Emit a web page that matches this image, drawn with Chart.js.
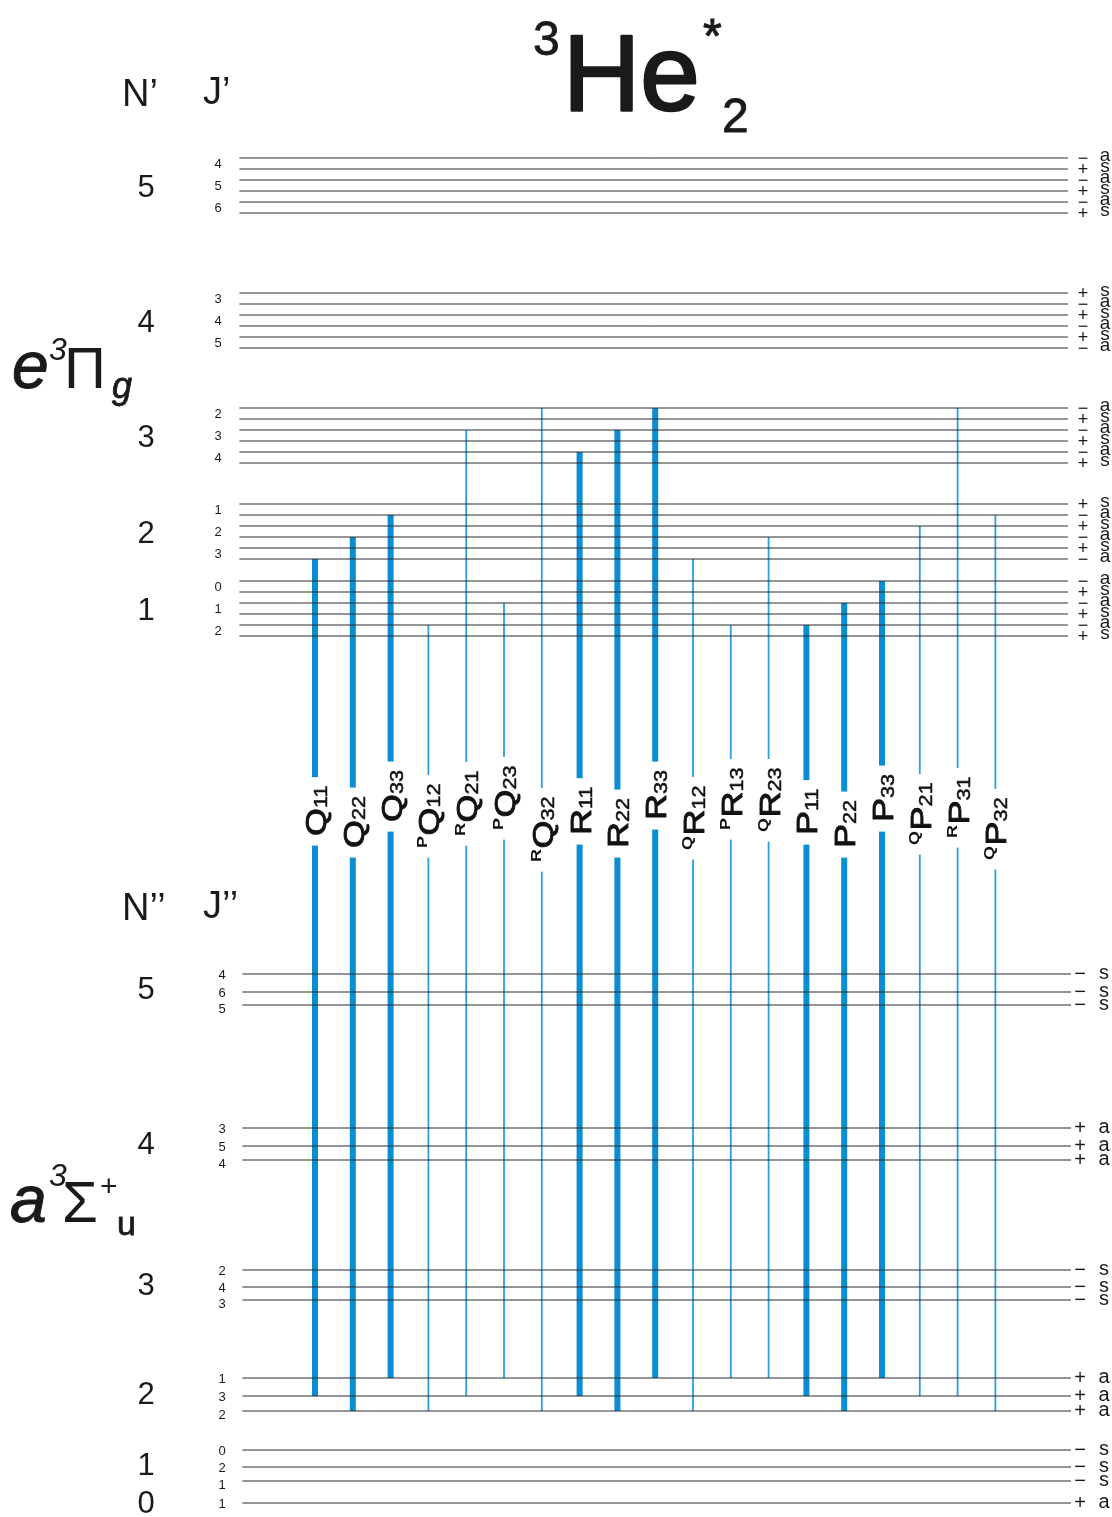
<!DOCTYPE html>
<html>
<head>
<meta charset="utf-8">
<script src="https://cdn.jsdelivr.net/npm/chart.js@4/dist/chart.umd.min.js"></script>
<style>
  html, body { margin: 0; padding: 0; background: #fff; }
  canvas { display: block; }
</style>
</head>
<body>
<canvas id="c" width="1112" height="1517"></canvas>
<script>
// ---------------- DATA (energies in arbitrary units) ----------------
// Upper state e3Πg : rotational N', fine-structure J', two Λ-doublet components each
const upperN = [5, 4, 3, 2, 1];
const upperJ = [[4, 5, 6], [3, 4, 5], [2, 3, 4], [1, 2, 3], [0, 1, 2]];
const upperE = [
  [1359, 1348, 1337, 1326, 1315, 1304],
  [1224, 1213, 1202, 1191, 1180, 1169],
  [1109, 1098, 1087, 1076, 1065, 1054],
  [1013, 1002, 991, 980, 969, 958],
  [936, 925, 914, 903, 892, 881]
];
const upperSign = [
  ['−', '+', '−', '+', '−', '+'],
  ['+', '−', '+', '−', '+', '−'],
  ['−', '+', '−', '+', '−', '+'],
  ['+', '−', '+', '−', '+', '−'],
  ['−', '+', '−', '+', '−', '+']
];
const upperSym = [
  ['a', 's', 'a', 's', 'a', 's'],
  ['s', 'a', 's', 'a', 's', 'a'],
  ['a', 's', 'a', 's', 'a', 's'],
  ['s', 'a', 's', 'a', 's', 'a'],
  ['a', 's', 'a', 's', 'a', 's']
];
// Lower state a3Σu+
const lowerN = [5, 4, 3, 2, 1, 0];
const lowerJ = [[4, 6, 5], [3, 5, 4], [2, 4, 3], [1, 3, 2], [0, 2, 1], [1]];
const lowerE = [[543, 525, 512], [389, 371, 357], [247, 230, 217], [139, 121, 106], [67, 50, 36], [14]];
const lowerSign = ['−', '+', '−', '+', '−', '+'];
const lowerSym = ['s', 'a', 's', 'a', 's', 'a'];

// Transitions
const branch    = ['Q','Q','Q','Q','Q','Q','Q','R','R','R','R','R','R','P','P','P','P','P','P'];
const preBranch = ['','','','P','R','P','R','','','','Q','P','Q','','','','Q','R','Q'];
const subIdx    = ['11','22','33','12','21','23','32','11','22','33','12','13','23','11','22','33','21','31','32'];
const upN   = [2,2,2,1,3,1,3,3,3,3,2,1,2,1,1,1,2,3,2];
const upJ   = [3,2,1,2,3,1,2,4,3,2,3,2,2,2,1,0,2,2,1];
const upC   = [1,1,1,0,0,0,0,0,0,0,1,0,1,0,0,0,0,0,1];
const loN   = [2,2,2,2,2,2,2,2,2,2,2,2,2,2,2,2,2,2,2];
const loJ   = [3,2,1,2,3,1,2,3,2,1,2,1,1,3,2,1,3,3,2];

// ---------------- LAYOUT / STYLE ----------------
const X_MIN = -8.3333, X_MAX = 21.0847;
const labelBottom = [836,848,822,848,836,830,862,835,848,820,850,830,832,835,848,822,845,838,860];
const FONT = '"Liberation Sans", Arial, sans-serif';
const THICK = '#0a8dd3', THIN = '#2b9fe0';

function upperEnergy(n, j, c) {
  const g = upperN.indexOf(n);
  const k = upperJ[g].indexOf(j);
  return upperE[g][2 * k + c];
}
function lowerEnergy(n, j) {
  const g = lowerN.indexOf(n);
  return lowerE[g][lowerJ[g].indexOf(j)];
}

const datasets = [];
upperE.forEach(g => g.forEach(e => datasets.push({
  data: [{x: -2, y: e}, {x: 19.92, y: e}], showLine: true, pointRadius: 0,
  borderColor: '#2a2a2a', borderWidth: 1
})));
lowerE.forEach(g => g.forEach(e => datasets.push({
  data: [{x: -1.92, y: e}, {x: 20.0, y: e}], showLine: true, pointRadius: 0,
  borderColor: '#2a2a2a', borderWidth: 1
})));
branch.forEach((b, i) => {
  const strong = subIdx[i][0] === subIdx[i][1];
  datasets.push({
    data: [{x: i, y: upperEnergy(upN[i], upJ[i], upC[i])}, {x: i, y: lowerEnergy(loN[i], loJ[i])}],
    showLine: true, pointRadius: 0, borderCapStyle: 'butt',
    borderColor: strong ? THICK : THIN, borderWidth: strong ? 6 : 1.8
  });
});

function heavyText(ctx, t, x, y, w) {
  ctx.fillText(t, x, y);
  if (w) { ctx.lineWidth = w; ctx.strokeText(t, x, y); }
}

const textPlugin = {
  id: 'texts',
  beforeDraw(chart) {
    const ctx = chart.ctx;
    ctx.save(); ctx.fillStyle = '#fff'; ctx.fillRect(0, 0, chart.width, chart.height); ctx.restore();
  },
  afterDatasetsDraw(chart) {
    const ctx = chart.ctx;
    const xs = chart.scales.x, ys = chart.scales.y;
    ctx.save();
    ctx.fillStyle = '#1a1a1a';
    ctx.strokeStyle = '#1a1a1a';
    ctx.lineJoin = 'round';
    ctx.textBaseline = 'alphabetic';

    // --- transition labels (rotated) ---
    branch.forEach((b, i) => {
      const x = xs.getPixelForValue(i);
      const y0 = labelBottom[i];
      ctx.save();
      ctx.translate(x, y0);
      ctx.rotate(-Math.PI / 2);
      ctx.scale(1.2, 1);
      const fPre = 'bold 15px ' + FONT, fMain = '30px ' + FONT, fSub = '18px ' + FONT;
      ctx.font = fPre; const wPre = preBranch[i] ? ctx.measureText(preBranch[i]).width + 0.5 : 0;
      ctx.font = fMain; const wMain = ctx.measureText(b).width;
      ctx.font = fSub; const wSub = ctx.measureText(subIdx[i]).width;
      ctx.fillStyle = '#fff';
      ctx.fillRect(-8, -14, wPre + wMain + wSub + 15, 28);
      ctx.fillStyle = '#111'; ctx.strokeStyle = '#111';
      if (preBranch[i]) { ctx.font = fPre; ctx.fillText(preBranch[i], 0, -1); }
      ctx.font = fMain; heavyText(ctx, b, wPre, 11, 0.9);
      ctx.font = fSub; heavyText(ctx, subIdx[i], wPre + wMain, 12, 0.5);
      ctx.restore();
    });

    // --- title ---
    ctx.fillStyle = '#1a1a1a'; ctx.strokeStyle = '#1a1a1a';
    ctx.textAlign = 'left';
    ctx.font = '107px ' + FONT; heavyText(ctx, 'He', 563, 110, 2.5);
    ctx.font = '48px ' + FONT; heavyText(ctx, '3', 533, 55, 0.8);
    ctx.font = '48px ' + FONT; heavyText(ctx, '*', 703, 52, 1);
    ctx.font = '48px ' + FONT; heavyText(ctx, '2', 722, 132, 0.8);

    // --- headers ---
    ctx.font = '38px ' + FONT;
    ctx.fillText('N’', 122, 106);
    ctx.fillText('J’', 203, 104);
    ctx.fillText('N’’', 122, 920);
    ctx.fillText('J’’', 203, 918);

    // --- state labels ---
    ctx.font = 'italic 66px ' + FONT; heavyText(ctx, 'e', 12, 388, 1);
    ctx.font = 'italic 32px ' + FONT; ctx.fillText('3', 49, 360);
    ctx.font = '58px ' + FONT; ctx.fillText('Π', 64, 388);
    ctx.font = 'italic 36px ' + FONT; heavyText(ctx, 'g', 112, 398, 0.8);

    ctx.font = 'italic 66px ' + FONT; heavyText(ctx, 'a', 10, 1222, 1);
    ctx.font = 'italic 32px ' + FONT; ctx.fillText('3', 49, 1186);
    ctx.font = '58px ' + FONT; ctx.fillText('Σ', 62, 1222);
    ctx.font = '30px ' + FONT; ctx.fillText('+', 100, 1196);
    ctx.font = '34px ' + FONT; heavyText(ctx, 'u', 117, 1235, 0.8);

    // --- N, J and parity labels ---
    ctx.textBaseline = 'middle';
    upperN.forEach((n, g) => {
      const e = upperE[g];
      const yc = (ys.getPixelForValue(e[0]) + ys.getPixelForValue(e[e.length - 1])) / 2;
      ctx.textAlign = 'center';
      ctx.font = '31px ' + FONT; ctx.fillText(String(n), 146, yc + 3);
      upperJ[g].forEach((j, k) => {
        const yj = (ys.getPixelForValue(e[2 * k]) + ys.getPixelForValue(e[2 * k + 1])) / 2;
        ctx.font = '13px ' + FONT; ctx.fillText(String(j), 218, yj + 1);
      });
      e.forEach((v, k) => {
        const y = ys.getPixelForValue(v);
        ctx.font = '18px ' + FONT; ctx.fillText(upperSign[g][k], 1083, y + 1);
        ctx.font = '19px ' + FONT; ctx.fillText(upperSym[g][k], 1105, y - 2);
      });
    });
    lowerN.forEach((n, g) => {
      const e = lowerE[g];
      const yc = (ys.getPixelForValue(e[0]) + ys.getPixelForValue(e[e.length - 1])) / 2;
      ctx.textAlign = 'center';
      ctx.font = '31px ' + FONT; ctx.fillText(String(n), 146, yc + 1);
      e.forEach((v, k) => {
        const y = ys.getPixelForValue(v);
        const extra = (k === e.length - 1 && e.length > 1) ? 4 : 1;
        ctx.font = '13px ' + FONT; ctx.fillText(String(lowerJ[g][k]), 222, y + extra);
        ctx.font = '20px ' + FONT; ctx.fillText(lowerSign[g], 1080, y);
        ctx.font = '20px ' + FONT; ctx.fillText(lowerSym[g], 1104, y - 1);
      });
    });
    ctx.restore();
  }
};

new Chart(document.getElementById('c'), {
  type: 'scatter',
  data: { datasets },
  options: {
    responsive: false,
    devicePixelRatio: 1,
    animation: false,
    layout: { padding: 0 },
    plugins: { legend: { display: false }, tooltip: { enabled: false } },
    scales: {
      x: { type: 'linear', min: X_MIN, max: X_MAX, display: false },
      y: { type: 'linear', min: 0, max: 1517, display: false }
    }
  },
  plugins: [textPlugin]
});
</script>
</body>
</html>
